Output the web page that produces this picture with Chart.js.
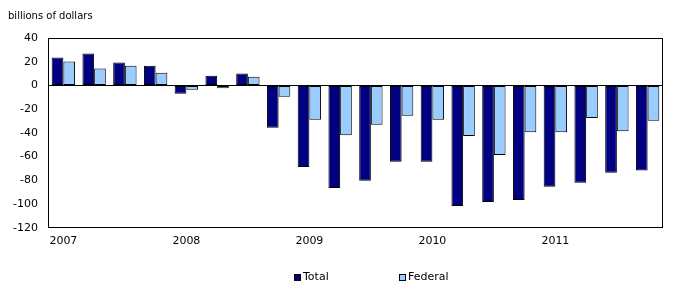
<!DOCTYPE html>
<html>
<head>
<meta charset="utf-8">
<script src="https://cdn.jsdelivr.net/npm/chart.js@4"></script>
<style>
  html, body { margin: 0; padding: 0; background: #ffffff; }
  #wrap { position: relative; width: 679px; height: 291px; }
</style>
</head>
<body>
<div id="wrap"><canvas id="c" width="679" height="291"></canvas></div>
<script>
const categories = ['2007 Q1','2007 Q2','2007 Q3','2007 Q4','2008 Q1','2008 Q2','2008 Q3','2008 Q4',
  '2009 Q1','2009 Q2','2009 Q3','2009 Q4','2010 Q1','2010 Q2','2010 Q3','2010 Q4',
  '2011 Q1','2011 Q2','2011 Q3','2011 Q4'];
const tickLabels = ['2007','','','','2008','','','','2009','','','','2010','','','','2011','','',''];
const totalValues = [23.6, 27, 19.3, 16.7, -7.1, 8.2, 10, -35.7, -68.7, -86.5, -80.3, -64.4, -64.4, -101.6, -98.2, -96.5, -85.4, -82, -73.5, -71.8];
const federalValues = [20.2, 14.2, 16.7, 10.8, -3.7, -2.3, 7.4, -9.6, -28.9, -42, -33.2, -25.5, -28.9, -42.6, -58.7, -39.4, -39.4, -27.5, -38.6, -29.8];
const seriesNames = ['Total', 'Federal'];
const yTitle = 'billions of dollars';

Chart.defaults.font.family = '"DejaVu Sans", Verdana, sans-serif';
Chart.defaults.color = '#000000';

const frame = {
  id: 'frame',
  afterDatasetsDraw(chart) {
    const a = chart.chartArea, ctx = chart.ctx;
    ctx.save();
    ctx.strokeStyle = '#000000';
    ctx.lineWidth = 1;
    ctx.strokeRect(Math.round(a.left) + 0.5, Math.round(a.top) + 0.5,
      Math.round(a.right - a.left) - 1, Math.round(a.bottom - a.top) - 1);
    ctx.restore();
  }
};

const customLegend = {
  id: 'customLegend',
  afterDraw(chart) {
    const ctx = chart.ctx;
    const xs = [294, 399];
    const yc = 277;
    ctx.save();
    ctx.font = '11px "DejaVu Sans", Verdana, sans-serif';
    ctx.textBaseline = 'middle';
    ctx.textAlign = 'left';
    chart.data.datasets.forEach((ds, i) => {
      const x = xs[i];
      ctx.fillStyle = ds.backgroundColor;
      ctx.fillRect(x, yc - 3, 6, 6);
      ctx.strokeStyle = '#000000';
      ctx.lineWidth = 1;
      ctx.strokeRect(x + 0.5, yc - 3 + 0.5, 6, 6);
      ctx.fillStyle = '#000000';
      ctx.fillText(ds.label, x + 9, yc + 0.5);
    });
    ctx.restore();
  }
};

new Chart(document.getElementById('c'), {
  type: 'bar',
  data: {
    labels: categories,
    datasets: [
      { label: seriesNames[0], data: totalValues, backgroundColor: '#000080', borderColor: '#000000', borderWidth: 1, borderSkipped: false, inflateAmount: 0 },
      { label: seriesNames[1], data: federalValues, backgroundColor: '#99ccff', borderColor: '#000000', borderWidth: 1, borderSkipped: false, inflateAmount: 0 }
    ]
  },
  options: {
    responsive: false,
    animation: false,
    events: [],
    layout: { padding: { left: 8, right: 16, top: 0, bottom: 36 } },
    datasets: { bar: { categoryPercentage: 0.76, barPercentage: 1.0 } },
    plugins: {
      legend: { display: false },
      tooltip: { enabled: false },
      title: {
        display: true,
        text: yTitle,
        align: 'start',
        color: '#000000',
        font: { size: 10, weight: 'normal' },
        padding: { top: 10.5, bottom: 15.5 }
      }
    },
    scales: {
      x: {
        grid: { display: false, drawTicks: false },
        border: { display: false },
        ticks: {
          autoSkip: false,
          maxRotation: 0,
          padding: 7,
          font: { size: 11 },
          color: '#000000',
          callback: (v, i) => tickLabels[i]
        }
      },
      y: {
        min: -120,
        max: 40,
        afterFit(scale) { scale.width = 40; },
        grid: {
          drawTicks: false,
          color: (c) => (c.tick && c.tick.value === 0) ? '#000000' : 'rgba(0,0,0,0)',
          lineWidth: 1
        },
        border: { display: false },
        ticks: { stepSize: 20, padding: 10, font: { size: 11 }, color: '#000000' }
      }
    }
  },
  plugins: [frame, customLegend]
});
</script>
</body>
</html>
